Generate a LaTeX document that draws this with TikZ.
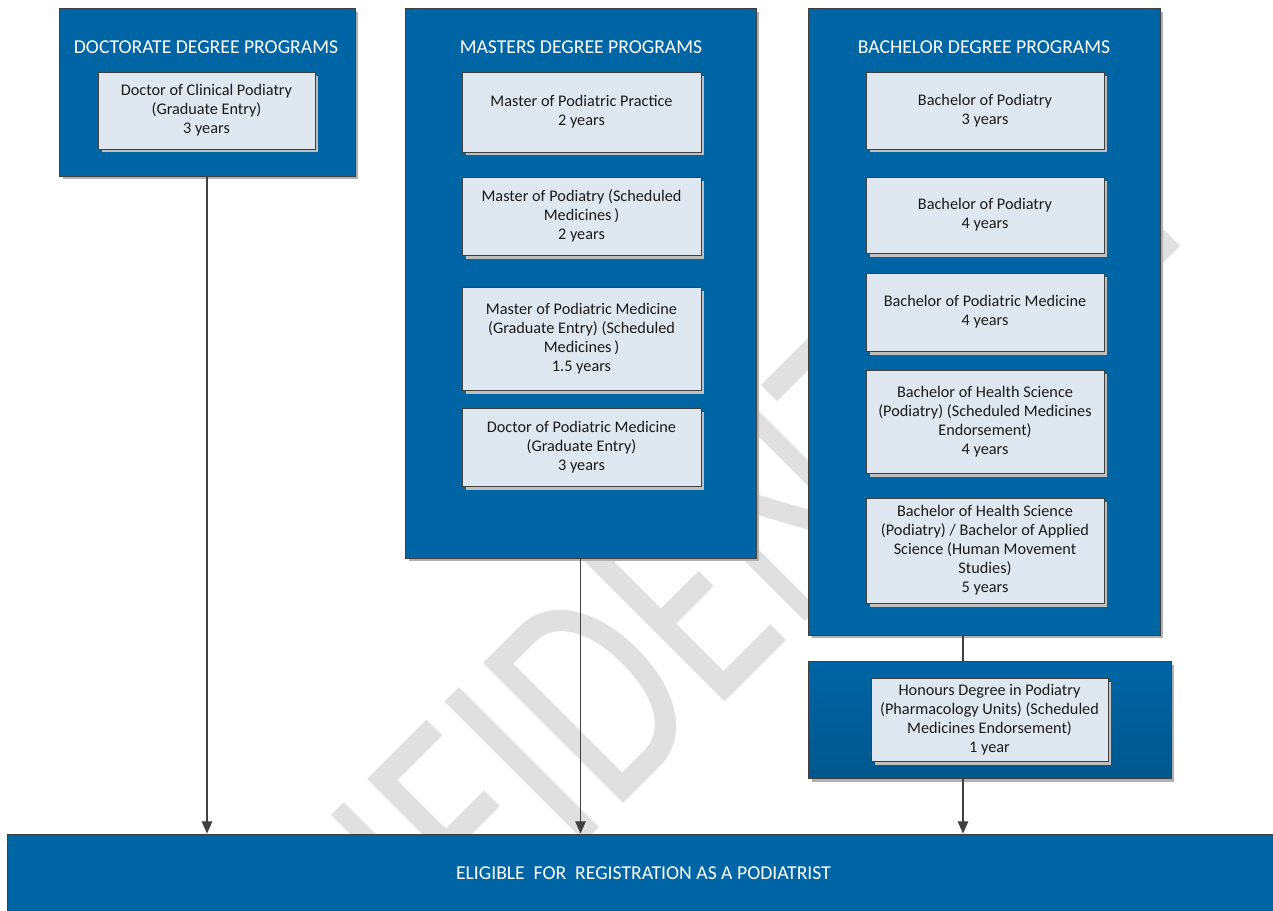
\documentclass[tikz,border=0pt]{standalone}
\usepackage{fontspec}
\setmainfont{Carlito}
\usepackage{tikz}
\usetikzlibrary{arrows.meta,positioning,shadows}
\definecolor{panelblue}{HTML}{0065A5}
\definecolor{cardfill}{HTML}{DFE8F1}
\definecolor{edge}{HTML}{404040}
\definecolor{shade}{HTML}{B0B0B0}
\definecolor{wmark}{HTML}{E0E0E0}
\definecolor{ink}{HTML}{1A1A1A}
\tikzset{
  panel/.style={draw=edge, fill=panelblue, line width=0.5pt, inner sep=0pt,
    drop shadow={shadow xshift=0.07cm, shadow yshift=-0.07cm, fill=shade, opacity=1}},
  card/.style={draw=edge, fill=cardfill, line width=0.5pt, inner sep=0pt, align=center,
    text=ink, font=\fontsize{9.25}{10.8}\selectfont,
    drop shadow={shadow xshift=0.07cm, shadow yshift=-0.07cm, fill=shade!80, opacity=1}},
  head/.style={text=white, font=\fontsize{11.2}{13}\selectfont},
  link/.style={draw=edge, line width=0.75pt},
  arr/.style={link, -{Triangle[length=7pt,width=6pt]}},
}

\begin{document}
\begin{tikzpicture}[x=0.02cm, y=-0.02cm]
\useasboundingbox (0,0) rectangle (1273,910);
\fill[white] (0,0) rectangle (1273,910);

% watermark behind everything
\begin{scope}
\clip (0,0) rectangle (1273,910);
\node[rotate=45, anchor=base west, inner sep=0pt, text=wmark,
  font=\fontsize{175.7}{180}\selectfont] (wm) at (196,1231) {\scalebox{0.75}[1]{CONFIDENTIAL}};
\end{scope}

% outer panels
\node[panel, minimum width=5.92cm, minimum height=3.36cm] (doc) at (207,92) {};
\node[panel, minimum width=7.02cm, minimum height=11cm] (mas) at (580.5,283) {};
\node[panel, minimum width=7.04cm, minimum height=12.54cm] (bac) at (984,321.5) {};
\node[panel, top color=panelblue, bottom color=panelblue!86!black,
  minimum width=7.26cm, minimum height=2.34cm] (hon) at (989.5,719.5) {};
\node[panel, drop shadow={opacity=0}, minimum width=25.46cm, minimum height=1.56cm,
  head] (elig) at (643.5,873) {ELIGIBLE\ \ FOR\ \ REGISTRATION AS A PODIATRIST};

\node[head] (dochead) at (206,47) {DOCTORATE DEGREE PROGRAMS};
\node[head] (mashead) at (581,47) {MASTERS DEGREE PROGRAMS};
\node[head] (bachead) at (984,47) {BACHELOR DEGREE PROGRAMS};

% program boxes
\node[card, minimum width=4.34cm, minimum height=1.54cm] (d1) at (206.5,110.5)
  {Doctor of Clinical Podiatry\\(Graduate Entry)\\3 years};
\foreach \n/\y/\h/\t in {
  m1/112/1.6/{Master of Podiatric Practice\\2 years},
  m2/216/1.56/{Master of Podiatry (Scheduled\\Medicines\,)\\2 years},
  m3/338.5/2.06/{Master of Podiatric Medicine\\(Graduate Entry) (Scheduled\\Medicines\,)\\1.5 years},
  m4/447/1.56/{Doctor of Podiatric Medicine\\(Graduate Entry)\\3 years}}
  \node[card, minimum width=4.78cm, minimum height=\h cm] (\n) at (581.5,\y) {\t};
\foreach \n/\y/\h/\t in {
  b1/110.5/1.54/{Bachelor of Podiatry\\3 years},
  b2/215/1.52/{Bachelor of Podiatry\\4 years},
  b3/312/1.56/{Bachelor of Podiatric Medicine\\4 years},
  b4/421.5/2.06/{Bachelor of Health Science\\(Podiatry) (Scheduled Medicines\\Endorsement)\\4 years},
  b5/550.5/2.1/{Bachelor of Health Science\\(Podiatry) / Bachelor of Applied\\Science (Human Movement\\Studies)\\5 years}}
  \node[card, minimum width=4.76cm, minimum height=\h cm] (\n) at (985,\y) {\t};
\node[card, minimum width=4.74cm, minimum height=1.66cm] (h1) at (989.5,719.5)
  {Honours Degree in Podiatry\\(Pharmacology Units) (Scheduled\\Medicines Endorsement)\\1 year};

% connectors
\coordinate (join) at ([xshift=-0.42cm]bac.south);
\draw[arr] (doc.south) -- (doc.south |- elig.north);
\draw[arr] (mas.south) -- (mas.south |- elig.north);
\draw[link] (join) -- (join |- hon.north);
\draw[arr] (hon.south -| join) -- (join |- elig.north);
\end{tikzpicture}
\end{document}
